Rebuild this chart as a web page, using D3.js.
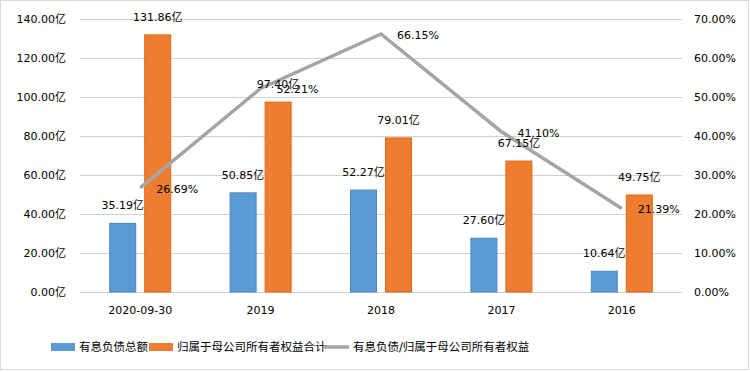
<!DOCTYPE html>
<html>
<head>
<meta charset="utf-8">
<script src="https://cdn.jsdelivr.net/npm/d3@7"></script>
<style>
  body { margin: 0; background: #fff; }
  text { font-family: "DejaVu Sans", "Noto Sans CJK SC", sans-serif; font-size: 11px; fill: #000; }
  .legend text { font-size: 11.5px; }
</style>
</head>
<body>
<div id="chart"></div>
<script>
const categories = ["2020-09-30", "2019", "2018", "2017", "2016"];
const debtTotal = [35.19, 50.85, 52.27, 27.60, 10.64];
const equityTotal = [131.86, 97.40, 79.01, 67.15, 49.75];
const debtRatio = [26.69, 52.21, 66.15, 41.10, 21.39];
const leftTicks = [0, 20, 40, 60, 80, 100, 120, 140];
const rightTicks = [0, 10, 20, 30, 40, 50, 60, 70];
const legendNames = ["有息负债总额", "归属于母公司所有者权益合计", "有息负债/归属于母公司所有者权益"];

const width = 750,
  height = 372;
const margin = { top: 19, right: 68, bottom: 80, left: 80 };

const svg = d3
  .select("#chart")
  .append("svg")
  .attr("width", width)
  .attr("height", height);

// outer border
svg
  .append("rect")
  .attr("x", 0.5)
  .attr("y", 0.5)
  .attr("width", width - 2)
  .attr("height", height - 3)
  .attr("fill", "#fff")
  .attr("stroke", "#d9d9d9");

const x = d3
  .scaleBand()
  .domain(categories)
  .range([margin.left, width - margin.right]);
const yLeft = d3.scaleLinear().domain([0, 140]).range([292, margin.top]);
const yRight = d3.scaleLinear().domain([0, 70]).range([292, margin.top]);

// gridlines
svg
  .append("g")
  .selectAll("line")
  .data(leftTicks)
  .enter()
  .append("line")
  .attr("x1", margin.left)
  .attr("x2", width - margin.right)
  .attr("y1", (d) => Math.round(yLeft(d)) + 0.5)
  .attr("y2", (d) => Math.round(yLeft(d)) + 0.5)
  .attr("stroke", "#d0d0d0")
  .attr("stroke-width", 1);

// left axis
const leftAxis = svg
  .append("g")
  .attr("transform", `translate(${margin.left - 11},0)`)
  .call(
    d3
      .axisLeft(yLeft)
      .tickValues(leftTicks)
      .tickSize(0)
      .tickFormat((d) => d3.format(".2f")(d) + "亿")
  );
leftAxis.select(".domain").remove();
leftAxis.selectAll("text").attr("dy", "0.35em");

// right axis
const rightAxis = svg
  .append("g")
  .attr("transform", `translate(${width - margin.right + 9},0)`)
  .call(
    d3
      .axisRight(yRight)
      .tickValues(rightTicks)
      .tickSize(0)
      .tickFormat((d) => d3.format(".2f")(d) + "%")
  );
rightAxis.select(".domain").remove();
rightAxis.selectAll("text").attr("dy", "0.35em");

// bottom axis
const bottomAxis = svg
  .append("g")
  .attr("transform", "translate(0,303)")
  .call(d3.axisBottom(x).tickSize(0));
bottomAxis.select(".domain").remove();
bottomAxis.selectAll("text").attr("dy", "0.71em");

const barW = 27,
  gap = 8;
const blueX = (c) => x(c) + x.bandwidth() / 2 - gap / 2 - barW;
const orangeX = (c) => x(c) + x.bandwidth() / 2 + gap / 2;

// bars
svg
  .append("g")
  .selectAll("rect")
  .data(categories)
  .enter()
  .append("rect")
  .attr("x", (c) => blueX(c) + 0.5)
  .attr("y", (c, i) => yLeft(debtTotal[i]))
  .attr("width", barW - 1)
  .attr("height", (c, i) => yLeft(0) - yLeft(debtTotal[i]))
  .attr("fill", "#5b9bd5")
  .attr("stroke", "#4a88c4")
  .attr("stroke-width", 1);

svg
  .append("g")
  .selectAll("rect")
  .data(categories)
  .enter()
  .append("rect")
  .attr("x", (c) => orangeX(c) + 0.5)
  .attr("y", (c, i) => yLeft(equityTotal[i]))
  .attr("width", barW - 1)
  .attr("height", (c, i) => yLeft(0) - yLeft(equityTotal[i]))
  .attr("fill", "#ed7d31")
  .attr("stroke", "#e8650f")
  .attr("stroke-width", 1);

// line
const line = d3
  .line()
  .x((d, i) => x(categories[i]) + x.bandwidth() / 2)
  .y((d) => yRight(d));
svg
  .append("path")
  .datum(debtRatio)
  .attr("d", line)
  .attr("fill", "none")
  .attr("stroke", "#a5a5a5")
  .attr("stroke-width", 3.5);

// bar labels
svg
  .append("g")
  .selectAll("text")
  .data(categories)
  .enter()
  .append("text")
  .attr("x", (c) => blueX(c) + barW / 2)
  .attr("y", (c, i) => yLeft(debtTotal[i]) - 18)
  .attr("dy", "0.35em")
  .attr("text-anchor", "middle")
  .text((c, i) => debtTotal[i].toFixed(2) + "亿");

svg
  .append("g")
  .selectAll("text")
  .data(categories)
  .enter()
  .append("text")
  .attr("x", (c) => orangeX(c) + barW / 2)
  .attr("y", (c, i) => yLeft(equityTotal[i]) - 18)
  .attr("dy", "0.35em")
  .attr("text-anchor", "middle")
  .text((c, i) => equityTotal[i].toFixed(2) + "亿");

// line labels
svg
  .append("g")
  .selectAll("text")
  .data(debtRatio)
  .enter()
  .append("text")
  .attr("x", (d, i) => x(categories[i]) + x.bandwidth() / 2 + 16)
  .attr("y", (d) => yRight(d) + 1)
  .attr("dy", "0.35em")
  .text((d) => d.toFixed(2) + "%");

// legend
const legend = svg.append("g").attr("class", "legend");
const legendY = 347;
const legendItems = [
  { name: legendNames[0], x: 51, type: "rect", color: "#5b9bd5" },
  { name: legendNames[1], x: 149, type: "rect", color: "#ed7d31" },
  { name: legendNames[2], x: 323, type: "line", color: "#a5a5a5" },
];
legendItems.forEach(function (d) {
  if (d.type === "rect") {
    legend
      .append("rect")
      .attr("x", d.x)
      .attr("y", legendY - 4)
      .attr("width", 24)
      .attr("height", 8)
      .attr("fill", d.color);
  } else {
    legend
      .append("line")
      .attr("x1", d.x)
      .attr("x2", d.x + 26)
      .attr("y1", legendY)
      .attr("y2", legendY)
      .attr("stroke", d.color)
      .attr("stroke-width", 3.5);
  }
  legend
    .append("text")
    .attr("x", d.x + (d.type === "rect" ? 28 : 30))
    .attr("y", legendY)
    .attr("dy", "0.35em")
    .text(d.name);
});
</script>
</body>
</html>
